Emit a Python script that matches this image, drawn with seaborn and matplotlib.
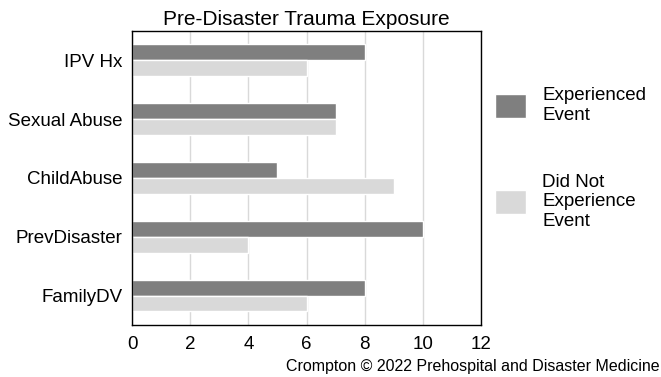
import pandas as pd
import matplotlib.pyplot as plt
import seaborn as sns

# Values
categories = ['IPV Hx', 'Sexual Abuse', 'ChildAbuse', 'PrevDisaster', 'FamilyDV']
experienced = [8, 7, 5, 10, 8]
not_experienced = [6, 7, 9, 4, 6]
series_names = ['Experienced\nEvent', 'Did Not\nExperience\nEvent']

df = pd.DataFrame({
    'category': categories * 2,
    'count': experienced + not_experienced,
    'group': [series_names[0]] * len(categories) + [series_names[1]] * len(categories),
})

sns.set_style('white')
plt.rcParams['font.family'] = ['Liberation Sans', 'DejaVu Sans']
plt.rcParams['text.color'] = 'black'

fig = plt.figure(figsize=(6.61, 3.77), dpi=100)
ax = fig.add_axes([0.1997, 0.138, 0.528, 0.78])

sns.barplot(data=df, y='category', x='count', hue='group', order=categories,
            hue_order=series_names, palette=['#7f7f7f', '#d9d9d9'],
            width=0.54, orient='h', ax=ax, saturation=1, legend=True)

ax.set_xlim(0, 12)
ax.set_xticks(range(0, 13, 2))
ax.xaxis.grid(True, color='#d9d9d9', linewidth=1)
ax.set_axisbelow(True)
ax.set_xlabel('')
ax.set_ylabel('')
ax.tick_params(axis='both', length=0, labelsize=13.5, colors='black')
ax.tick_params(axis='x', pad=8)
ax.tick_params(axis='y', pad=7)
for s in ax.spines.values():
    s.set_color('black')
    s.set_linewidth(1)

ax.set_title('Pre-Disaster Trauma Exposure', fontsize=15, pad=4, color='black')

ax.legend(loc='upper left', bbox_to_anchor=(1.019, 0.834), frameon=False,
          fontsize=13.5, handlelength=1.65, handleheight=1.6, labelspacing=2.65,
          handletextpad=0.85, borderaxespad=0)

fig.text(0.998, 0.008, 'Crompton \u00a9 2022 Prehospital and Disaster Medicine',
         ha='right', va='bottom', fontsize=11.5)

fig.savefig('out.png', dpi=100)
